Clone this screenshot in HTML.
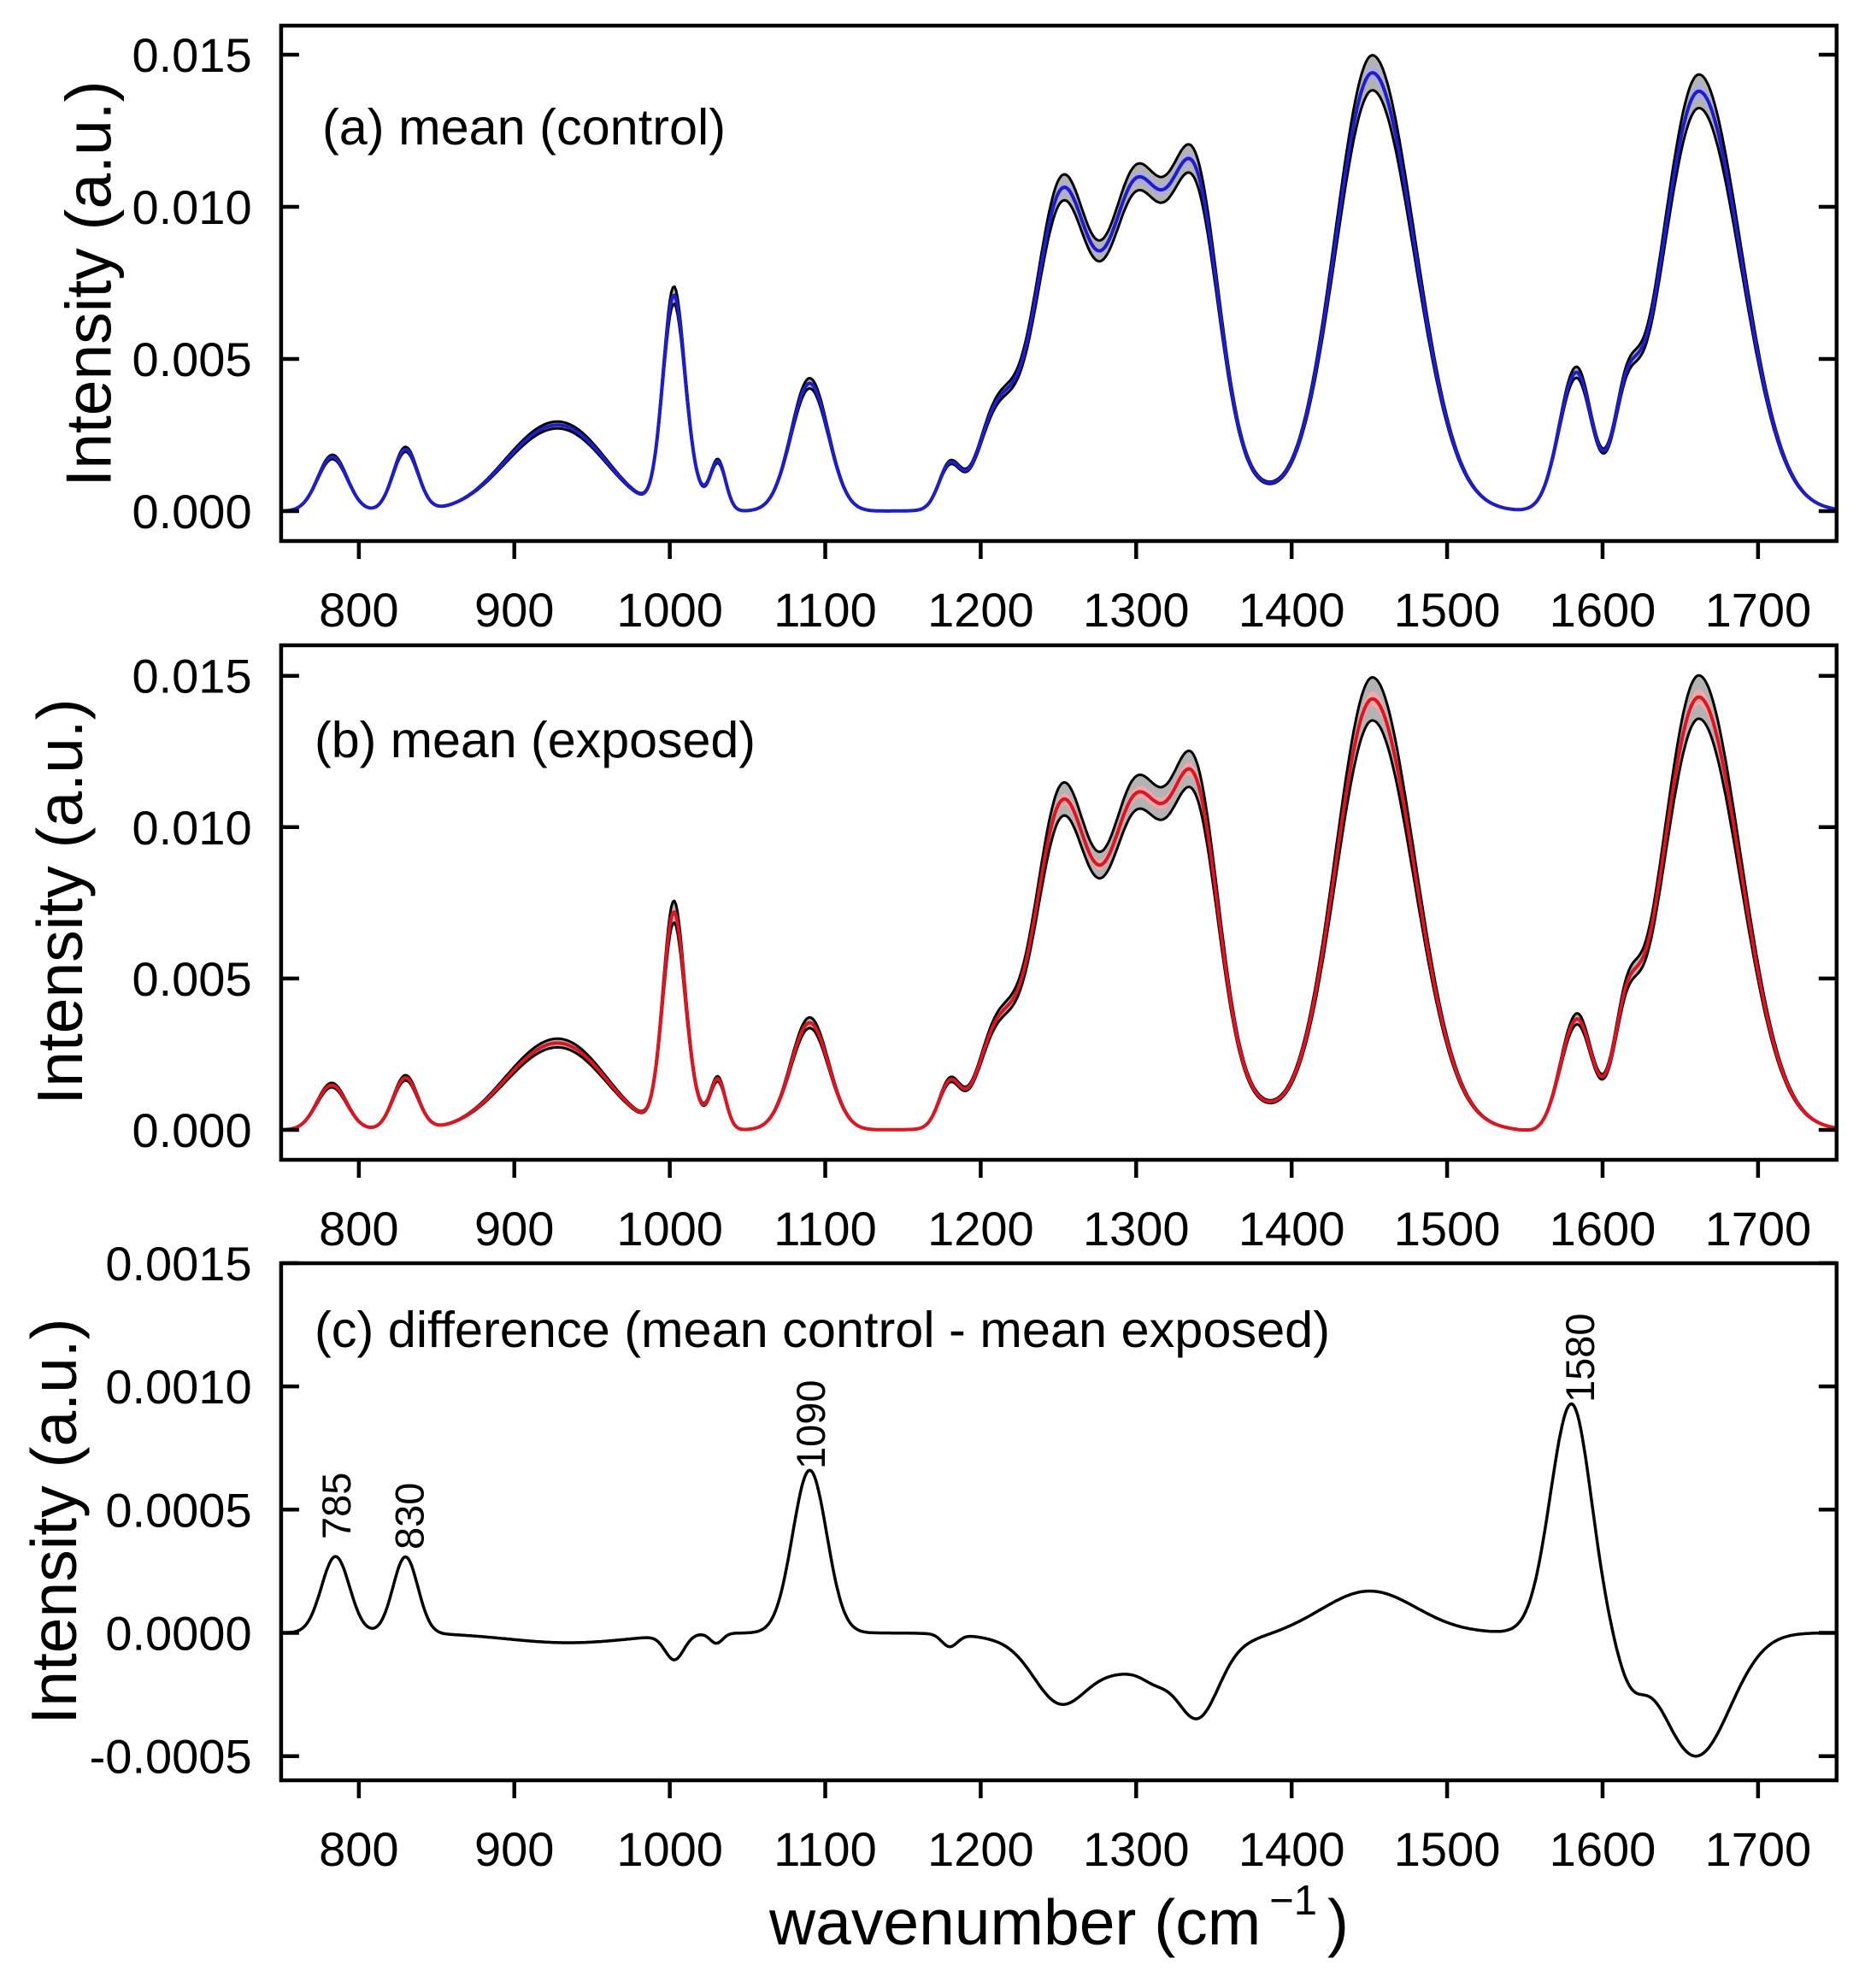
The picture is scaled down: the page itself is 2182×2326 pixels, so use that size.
<!DOCTYPE html>
<html>
<head>
<meta charset="utf-8">
<style>
html,body{margin:0;padding:0;background:#fff;overflow:hidden;}
svg{display:block;}
text{font-family:"Liberation Sans",Arial,sans-serif;fill:#000;}
</style>
</head>
<body>
<svg id="s" xmlns="http://www.w3.org/2000/svg" width="2182" height="2326" viewBox="0 0 2182 2326">
<rect x="0" y="0" width="2182" height="2326" fill="#fff"/>
<g id="curves"></g>
<g id="axes" stroke="#000" stroke-width="4.5" fill="none"></g>

<!-- Panel (a) text -->
<g font-size="56" text-anchor="end">
<text x="294.6" y="84">0.015</text>
<text x="294.6" y="262">0.010</text>
<text x="294.6" y="440">0.005</text>
<text x="294.6" y="618">0.000</text>
</g>
<g font-size="56" text-anchor="middle">
<text x="419.85" y="733">800</text>
<text x="601.74" y="733">900</text>
<text x="783.63" y="733">1000</text>
<text x="965.52" y="733">1100</text>
<text x="1147.41" y="733">1200</text>
<text x="1329.30" y="733">1300</text>
<text x="1511.19" y="733">1400</text>
<text x="1693.08" y="733">1500</text>
<text x="1874.97" y="733">1600</text>
<text x="2056.86" y="733">1700</text>
</g>
<text x="377" y="169" font-size="59" textLength="472" lengthAdjust="spacingAndGlyphs">(a) mean (control)</text>
<text transform="translate(129.5,332) rotate(-90)" font-size="75" text-anchor="middle">Intensity (a.u.)</text>

<!-- Panel (b) text -->
<g font-size="56" text-anchor="end">
<text x="294.6" y="810.7">0.015</text>
<text x="294.6" y="987.8">0.010</text>
<text x="294.6" y="1164.9">0.005</text>
<text x="294.6" y="1342">0.000</text>
</g>
<g font-size="56" text-anchor="middle">
<text x="419.85" y="1457">800</text>
<text x="601.74" y="1457">900</text>
<text x="783.63" y="1457">1000</text>
<text x="965.52" y="1457">1100</text>
<text x="1147.41" y="1457">1200</text>
<text x="1329.30" y="1457">1300</text>
<text x="1511.19" y="1457">1400</text>
<text x="1693.08" y="1457">1500</text>
<text x="1874.97" y="1457">1600</text>
<text x="2056.86" y="1457">1700</text>
</g>
<text x="368" y="886" font-size="59" textLength="516" lengthAdjust="spacingAndGlyphs">(b) mean (exposed)</text>
<text transform="translate(96,1055) rotate(-90)" font-size="75" text-anchor="middle">Intensity (a.u.)</text>

<!-- Panel (c) text -->
<g font-size="56" text-anchor="end">
<text x="294.6" y="1497.9">0.0015</text>
<text x="294.6" y="1642.1">0.0010</text>
<text x="294.6" y="1786.3">0.0005</text>
<text x="294.6" y="1930.5">0.0000</text>
<text x="294.6" y="2074.7">-0.0005</text>
</g>
<g font-size="56" text-anchor="middle">
<text x="419.85" y="2183">800</text>
<text x="601.74" y="2183">900</text>
<text x="783.63" y="2183">1000</text>
<text x="965.52" y="2183">1100</text>
<text x="1147.41" y="2183">1200</text>
<text x="1329.30" y="2183">1300</text>
<text x="1511.19" y="2183">1400</text>
<text x="1693.08" y="2183">1500</text>
<text x="1874.97" y="2183">1600</text>
<text x="2056.86" y="2183">1700</text>
</g>
<text x="368" y="1576" font-size="59" textLength="1188" lengthAdjust="spacingAndGlyphs">(c) difference (mean control - mean exposed)</text>
<text transform="translate(89,1780) rotate(-90)" font-size="75" text-anchor="middle">Intensity (a.u.)</text>

<g font-size="47">
<text transform="translate(409.8,1801) rotate(-90)">785</text>
<text transform="translate(495.6,1813) rotate(-90)">830</text>
<text transform="translate(965,1719) rotate(-90)">1090</text>
<text transform="translate(1865,1641) rotate(-90)">1580</text>
</g>

<text x="900" y="2275" font-size="75">wavenumber (cm<tspan font-size="49" dx="10" dy="-35">−1</tspan><tspan dx="12" dy="35">)</tspan></text>
</svg>

<script>
(function(){
var NS="http://www.w3.org/2000/svg";
function X(w){return 328.9+(w-750)*1.8189;}
function G(list,w){var s=0;for(var i=0;i<list.length;i++){var g=list[i];var c=g[0],a=g[1],sl=g[2],sr=g[3]||g[2];var sg=(w<c)?sl:sr;var d=w-c;s+=a*Math.exp(-d*d/(2*sg*sg));}return s;}
var A=[[783,0.00178,9.5],[830,0.00202,8],[910,0.0017,25],[942,0.0018,24],[1002.5,0.0069,7],[1015,0.0006,7],[1031,0.0016,5],[1090,0.0042,12],[1180,0.0014,7],[1210,0.0027,12],[1251,0.0082,17],[1300,0.0060,16],[1338,0.0080,15],[1300,0.0045,42],[1452,0.0144,24,27],[1583,0.0045,11,10],[1615,0.0025,8],[1662,0.0138,24,27]];
var C=[[785,0.00031,9],[830,0.00031,8],[935,-0.00004,40],[1003,-0.0001,6],[1030,-0.00004,4],[1090,0.00066,11],[1180,-0.00005,5],[1250,-0.00019,16],[1295,-0.00016,45],[1312,-0.00004,8],[1340,-0.00025,13],[1450,0.00017,30],[1580,0.00093,13.5,12.5],[1618,-0.00015,9],[1660,-0.0005,22]];
var ws=[];for(var w=750;w<=1750;w+=1)ws.push(w);
function line(f){var s="";for(var i=0;i<ws.length;i++){s+=(i?"L":"M")+X(ws[i]).toFixed(1)+" "+f(ws[i]).toFixed(1);}return s;}
function band(fu,fl){var s=line(fu);for(var i=ws.length-1;i>=0;i--){s+="L"+X(ws[i]).toFixed(1)+" "+fl(ws[i]).toFixed(1);}return s+"Z";}
var cg=document.getElementById("curves");
function P(d,fill,stroke,sw){var p=document.createElementNS(NS,"path");p.setAttribute("d",d);p.setAttribute("fill",fill);p.setAttribute("stroke",stroke);p.setAttribute("stroke-width",sw);p.setAttribute("stroke-linejoin","round");cg.appendChild(p);}
function ma(w){return G(A,w);}
function mb(w){return Math.max(0,G(A,w)-G(C,w));}
function mc(w){return G(C,w);}
function panel(m,y0,k,r,col,light){
  function Y(v){return y0-v*k;}
  var up=function(w){return Y(m(w)*(1+r));},lo=function(w){return Y(m(w)*(1-r));};
  P(band(up,lo),"#b3b3b3","none",0);
  P(line(up),"none","#000",3);
  P(line(lo),"none","#000",3);
  P(band(function(w){return Y(m(w)*(1+r*0.35));},function(w){return Y(m(w)*(1-r*0.35));}),light,"none",0);
  P(line(function(w){return Y(m(w));}),"none",col,4);
}
panel(ma,598,35600,0.04,"#1c1cd0","#aaaaf2");
panel(mb,1322,35420,0.05,"#e3121e","#f3a9a9");
P(line(function(w){return 1910.5-mc(w)*288400;}),"none","#000",3.5);

var ag=document.getElementById("axes");
function L(x1,y1,x2,y2){var l=document.createElementNS(NS,"line");l.setAttribute("x1",x1);l.setAttribute("y1",y1);l.setAttribute("x2",x2);l.setAttribute("y2",y2);ag.appendChild(l);}
function R(x,y,w,h){var r=document.createElementNS(NS,"rect");r.setAttribute("x",x);r.setAttribute("y",y);r.setAttribute("width",w);r.setAttribute("height",h);ag.appendChild(r);}
var xl=328.9,xr=2148.8;
var panels=[[30,633,[64,242,420,598]],[755,1357,[790.7,967.8,1144.9,1322]],[1478,2083,[1477.9,1622.1,1766.3,1910.5,2054.7]]];
panels.forEach(function(p){
  R(xl,p[0],xr-xl,p[1]-p[0]);
  p[2].forEach(function(y){L(xl,y,xl+21,y);L(xr-21,y,xr,y);});
  for(var w=800;w<=1700;w+=100){var x=X(w);L(x,p[1],x,p[1]+21);}
});
})();
</script>
</body>
</html>
